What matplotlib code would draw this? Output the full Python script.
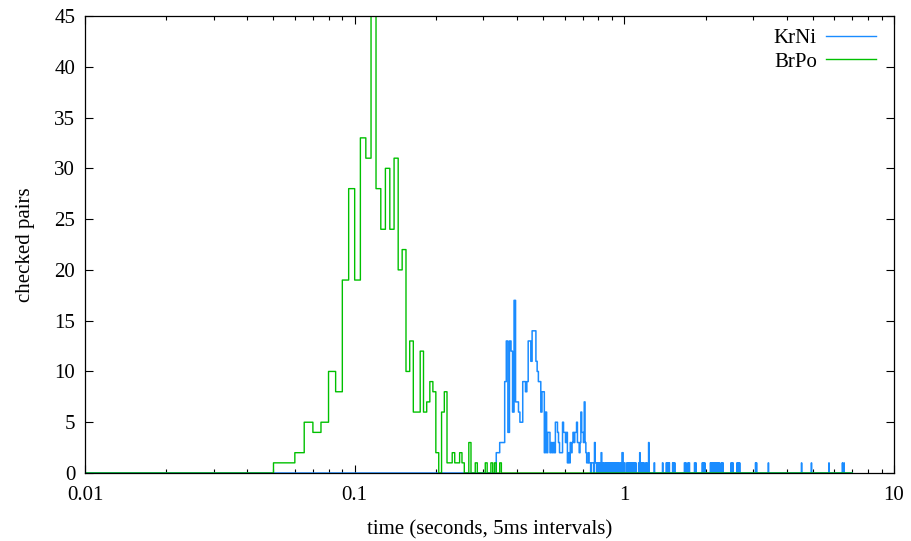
import numpy as np
import matplotlib.pyplot as plt
from matplotlib.lines import Line2D

# ---------- data (counts per 5 ms bin) ----------
# BrPo: consecutive bins starting at 50 ms
brpo_start_ms = 50
brpo_counts = [1, 1, 2, 5, 4, 5, 10, 8, 19, 28,
               19, 33, 31, 48, 28, 24, 30, 24, 31, 20,
               22, 10, 13, 6, 6, 12, 6, 7, 9, 8,
               2, 0, 6, 8, 1, 1, 2, 1, 1, 2,
               1, 0, 0, 3, 0, 0, 1, 0, 0, 0,
               0, 1, 0, 0, 1, 0, 1, 0, 0, 1, 0]

# KrNi: consecutive bins starting at 335 ms
krni_start_ms = 335
krni_counts = [2, 2, 3, 3, 3, 9, 13, 4, 13, 12, 6, 17, 7,
               7, 6, 5, 5, 9, 9, 8, 9, 13, 13, 11, 14, 14, 14, 11, 10, 9, 9, 6, 8,
               8, 2, 6, 2, 4, 4, 2, 3, 2, 3, 2, 5, 5, 4, 3, 2, 2, 2, 5, 4,
               4, 3, 4, 1, 2, 1, 3, 2, 3, 4, 3, 4, 4, 5, 3, 3, 2, 3, 6, 4,
               4, 3, 7, 3, 2, 1, 1, 2, 1, 1, 0, 1, 1, 1, 0, 3, 1, 1, 0, 1]

# KrNi: sparse tail after 0.8 s (bin start in ms, count)
krni_tail_ms = [805, 815, 820, 830, 840, 845, 855, 865, 870, 880,
                890, 900, 910, 915, 925, 935, 945, 955, 960, 970,
                980, 985, 995, 1000, 1020, 1030, 1040, 1050, 1060, 1070,
                1080, 1090, 1100, 1130, 1140, 1150, 1160, 1170, 1180, 1200,
                1210, 1230, 1290, 1385, 1430, 1440, 1455, 1465, 1510, 1520,
                1535, 1670, 1690, 1720, 1740, 1820, 1840, 1945, 1955, 1970,
                1985, 2085, 2100, 2115, 2130, 2150, 2175, 2195, 2210, 2230,
                2245, 2285, 2300, 2320, 2485, 2510, 2525, 2615, 2640, 2660,
                2675, 3065, 3090, 3420, 4540, 4940, 5740, 6440, 6530]
krni_tail_n = [1, 1, 2, 1, 1, 1, 1, 1, 1, 1,
               1, 1, 1, 1, 1, 1, 1, 1, 1, 1,
               2, 2, 1, 1, 1, 1, 1, 1, 1, 1,
               1, 1, 1, 1, 2, 1, 1, 1, 1, 1,
               1, 3, 1, 1, 1, 1, 1, 1, 1, 1,
               1, 1, 1, 1, 1, 1, 1, 1, 1, 1,
               1, 1, 1, 1, 1, 1, 1, 1, 1, 1,
               1, 1, 1, 1, 1, 1, 1, 1, 1, 1,
               1, 1, 1, 1, 1, 1, 1, 1, 1]

# ---------- build full histograms ----------
bins_ms = np.arange(5, 7005, 5)
t = bins_ms / 1000.0

def fill(start_ms, counts):
    h = np.zeros(len(bins_ms))
    i0 = (start_ms - 5) // 5
    h[i0:i0 + len(counts)] = counts
    return h

brpo = fill(brpo_start_ms, brpo_counts)
krni = fill(krni_start_ms, krni_counts)
for ms, n in zip(krni_tail_ms, krni_tail_n):
    krni[(ms - 5) // 5] = n

# ---------- plot ----------
plt.rcParams['font.family'] = 'Liberation Serif'
plt.rcParams['font.size'] = 15

blue = '#1a8cff'
green = '#00c000'

fig = plt.figure(figsize=(9.12, 5.41), dpi=100)
ax = fig.add_axes([85 / 912, 68 / 541, 809 / 912, 457 / 541])

ax.step(t, krni, where='post', color=blue, lw=1.1, zorder=2)
ax.step(t, brpo, where='post', color=green, lw=1.0, zorder=2)

ax.set_xscale('log')
ax.set_xlim(0.01, 10)
ax.set_ylim(0, 45)
ax.set_yticks(np.arange(0, 50, 5))
ax.set_xticks([0.01, 0.1, 1, 10])
ax.set_xticklabels(['0.01', '0.1', '1', '10'])

ax.tick_params(which='both', direction='in', top=True, right=True, width=0.8)
ax.tick_params(which='major', length=6)
ax.tick_params(which='minor', length=3)
ax.tick_params(axis='x', pad=9)
ax.tick_params(axis='y', pad=7)
for s in ax.spines.values():
    s.set_linewidth(0.9)
    s.set_zorder(3)

ax.set_xlabel('time (seconds, 5ms intervals)', labelpad=11)
ax.set_ylabel('checked pairs', labelpad=14)

handles = [Line2D([], [], color=blue, lw=1.0), Line2D([], [], color=green, lw=1.0)]
ax.legend(handles, ['KrNi', 'BrPo'], loc='upper right', frameon=False,
          markerfirst=False, handlelength=2.4, handletextpad=0.45,
          labelspacing=0.2, borderaxespad=0.3, bbox_to_anchor=(0.996, 1.005))

fig.savefig('out.png', dpi=100)
